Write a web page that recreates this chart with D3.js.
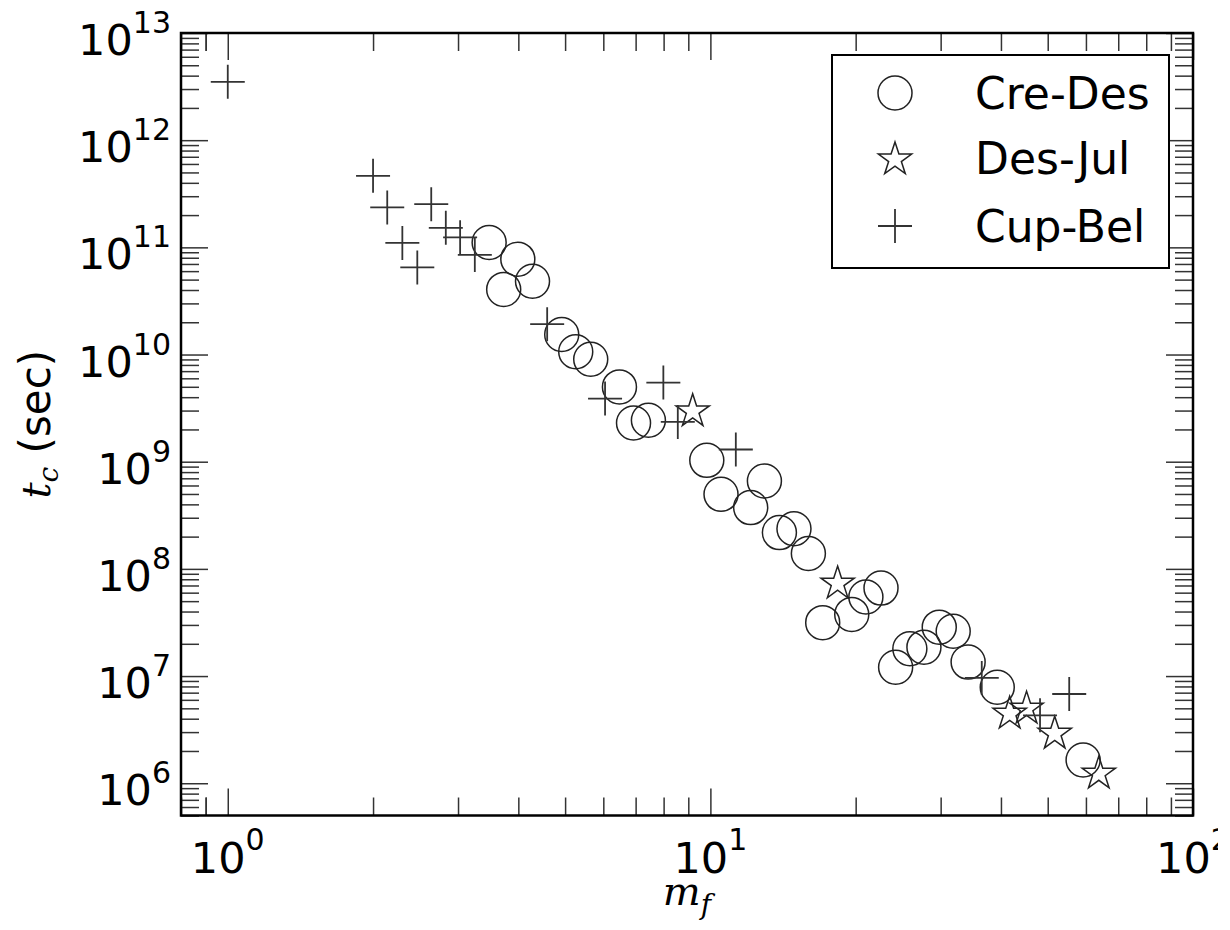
<!DOCTYPE html>
<html>
<head>
<meta charset="utf-8">
<script src="https://cdn.jsdelivr.net/npm/d3@7"></script>
<style>
  html, body { margin: 0; padding: 0; background: #fff; }
  svg { display: block; }
</style>
</head>
<body>
<svg id="chart" width="1230" height="930"></svg>
<script>
// ---------------- DATA ----------------
const seriesNames = ["Cre-Des", "Des-Jul", "Cup-Bel"];

const creDesM = [3.48, 3.99, 3.73, 4.28, 4.92, 5.26, 5.65, 6.48, 6.93, 7.44,
  9.83, 10.52, 12.94, 12.12, 13.9, 14.9, 15.96, 17.09, 19.63, 21.0,
  22.57, 24.2, 25.9, 27.7, 29.8, 31.85, 34.2, 39.3, 59.2];
const creDesT = [1.11e11, 7.76e10, 4.05e10, 4.83e10, 1.54e10, 1.06e10, 9.04e9, 4.99e9, 2.30e9, 2.44e9,
  1.03e9, 4.96e8, 6.6e8, 3.73e8, 2.18e8, 2.37e8, 1.39e8, 3.15e7, 3.76e7, 5.46e7,
  6.62e7, 1.21e7, 1.80e7, 1.86e7, 2.86e7, 2.62e7, 1.35e7, 7.87e6, 1.65e6];

const desJulM = [9.19, 18.35, 41.7, 45.2, 51.7, 63.8];
const desJulT = [3.05e9, 7.53e7, 4.6e6, 5.13e6, 2.99e6, 1.27e6];

const cupBelM = [1.0, 2.0, 2.14, 2.30, 2.47, 2.64, 2.83, 3.03, 3.25, 4.59,
  6.05, 7.99, 8.56, 11.29, 36.5, 48.2, 55.4];
const cupBelT = [3.5e12, 4.65e11, 2.36e11, 1.1e11, 6.5e10, 2.53e11, 1.52e11, 1.24e11, 8.5e10, 1.92e10,
  3.88e9, 5.47e9, 2.35e9, 1.30e9, 9.6e6, 4.3e6, 6.8e6];

const xDomain = [0.8, 100];
const yDomain = [5e5, 1e13];
const xMajorTicks = [1, 10, 100];
const xTickExponents = ["0", "1", "2"];
const yMajorTicks = [1e6, 1e7, 1e8, 1e9, 1e10, 1e11, 1e12, 1e13];
const yTickExponents = ["6", "7", "8", "9", "10", "11", "12", "13"];
const xLabelMain = "m", xLabelSub = "f";
const yLabelMain = "t", yLabelSub = "c", yLabelUnit = " (sec)";

// ---------------- LAYOUT ----------------
const L = 181, R = 1193, T = 33, B = 815.5;
const svg = d3.select("#chart");
svg.append("defs").append("clipPath").attr("id", "figclip")
  .append("rect").attr("x", 0).attr("y", 0).attr("width", 1218).attr("height", 930);
const root = svg.append("g").attr("clip-path", "url(#figclip)");

const x = d3.scaleLog().domain(xDomain).range([L, R]);
const y = d3.scaleLog().domain(yDomain).range([B, T]);

function minorTicks(domain) {
  const out = [];
  const lo = Math.floor(Math.log10(domain[0])), hi = Math.ceil(Math.log10(domain[1]));
  for (let e = lo; e <= hi; e++) {
    for (let k = 2; k <= 9; k++) {
      const v = k * Math.pow(10, e);
      if (v >= domain[0] * 0.9999 && v <= domain[1] * 1.0001) out.push(v);
    }
  }
  return out;
}
const xMinor = minorTicks(xDomain).concat([0.9]).filter(v => v >= xDomain[0]);
const yMinor = minorTicks(yDomain);

const MAJ = 27, MIN = 18;
const tickColor = "#333";

function styleAxis(g) {
  g.select(".domain").remove();
  g.selectAll(".tick line").attr("stroke", tickColor).attr("stroke-width", 1.5);
  g.selectAll(".tick text").remove();
}

// bottom
root.append("g").attr("transform", `translate(0,${B})`)
  .call(d3.axisBottom(x).tickValues(xMajorTicks).tickSize(-MAJ).tickFormat(""))
  .call(styleAxis);
root.append("g").attr("transform", `translate(0,${B})`)
  .call(d3.axisBottom(x).tickValues(xMinor).tickSize(-MIN).tickFormat(""))
  .call(styleAxis);
// top
root.append("g").attr("transform", `translate(0,${T})`)
  .call(d3.axisTop(x).tickValues(xMajorTicks).tickSize(-MAJ).tickFormat(""))
  .call(styleAxis);
root.append("g").attr("transform", `translate(0,${T})`)
  .call(d3.axisTop(x).tickValues(xMinor).tickSize(-MIN).tickFormat(""))
  .call(styleAxis);
// left
root.append("g").attr("transform", `translate(${L},0)`)
  .call(d3.axisLeft(y).tickValues(yMajorTicks).tickSize(-MAJ).tickFormat(""))
  .call(styleAxis);
root.append("g").attr("transform", `translate(${L},0)`)
  .call(d3.axisLeft(y).tickValues(yMinor).tickSize(-MIN).tickFormat(""))
  .call(styleAxis);
// right
root.append("g").attr("transform", `translate(${R},0)`)
  .call(d3.axisRight(y).tickValues(yMajorTicks).tickSize(-MAJ).tickFormat(""))
  .call(styleAxis);
root.append("g").attr("transform", `translate(${R},0)`)
  .call(d3.axisRight(y).tickValues(yMinor).tickSize(-MIN).tickFormat(""))
  .call(styleAxis);

// frame
root.append("rect").attr("x", L).attr("y", T).attr("width", R - L).attr("height", B - T)
  .attr("fill", "none").attr("stroke", "#000").attr("stroke-width", 2.5);

// tick labels
const fontSans = "'DejaVu Sans', sans-serif";
const xl = root.append("g").attr("font-family", fontSans).attr("fill", "#000");
xMajorTicks.forEach((v, i) => {
  const t = xl.append("text").attr("x", x(v)).attr("y", 873).attr("text-anchor", "middle");
  t.append("tspan").attr("font-size", 43).text("10");
  t.append("tspan").attr("font-size", 30).attr("dy", -23).text(xTickExponents[i]);
});
const yl = root.append("g").attr("font-family", fontSans).attr("fill", "#000");
yMajorTicks.forEach((v, i) => {
  const t = yl.append("text").attr("x", 171).attr("y", y(v) + 22).attr("text-anchor", "end");
  t.append("tspan").attr("font-size", 43).text("10");
  t.append("tspan").attr("font-size", 30).attr("dy", -22).text(yTickExponents[i]);
});

// axis labels
const fontMath = "'DejaVu Serif', serif";
const xt = root.append("text").attr("x", (L + R) / 2).attr("y", 905).attr("text-anchor", "middle")
  .attr("font-family", fontMath).attr("font-style", "italic");
xt.append("tspan").attr("font-size", 40).text(xLabelMain);
xt.append("tspan").attr("font-size", 28).attr("dy", 9).text(xLabelSub);

const yt = root.append("text").attr("transform", `translate(50,${(T + B) / 2}) rotate(-90)`)
  .attr("text-anchor", "middle");
yt.append("tspan").attr("font-family", fontMath).attr("font-style", "italic").attr("font-size", 40).text(yLabelMain);
yt.append("tspan").attr("font-family", fontMath).attr("font-style", "italic").attr("font-size", 28).attr("dy", 8).text(yLabelSub);
yt.append("tspan").attr("font-family", fontSans).attr("font-size", 42).attr("dy", -8).text(yLabelUnit);

// ---------------- MARKERS ----------------
const mStroke = "#222", mWidth = 1.5;
const circleR = 17;
function starD(Rout) {
  const rin = Rout * 0.381966;
  const pts = [];
  for (let i = 0; i < 10; i++) {
    const r = i % 2 === 0 ? Rout : rin;
    const a = -Math.PI / 2 + i * Math.PI / 5;
    pts.push([r * Math.cos(a), r * Math.sin(a)]);
  }
  return "M" + pts.map(p => p[0].toFixed(2) + "," + p[1].toFixed(2)).join("L") + "Z";
}
const STAR = starD(17.5);
const PLUS_ARM = 17;

const plot = root.append("g");

function drawCircle(g, cx, cy) {
  g.append("circle").attr("cx", cx).attr("cy", cy).attr("r", circleR)
    .attr("fill", "none").attr("stroke", mStroke).attr("stroke-width", mWidth);
}
function drawStar(g, cx, cy) {
  g.append("path").attr("d", STAR).attr("transform", `translate(${cx},${cy + 1.5})`)
    .attr("fill", "none").attr("stroke", mStroke).attr("stroke-width", mWidth).attr("stroke-linejoin", "miter");
}
function drawPlus(g, cx, cy) {
  g.append("path").attr("d", `M${cx - PLUS_ARM},${cy}H${cx + PLUS_ARM}M${cx},${cy - PLUS_ARM}V${cy + PLUS_ARM}`)
    .attr("fill", "none").attr("stroke", "#333").attr("stroke-width", 1.8);
}

creDesM.forEach((m, i) => drawCircle(plot, x(m), y(creDesT[i])));
desJulM.forEach((m, i) => drawStar(plot, x(m), y(desJulT[i])));
cupBelM.forEach((m, i) => drawPlus(plot, x(m), y(cupBelT[i])));

// ---------------- LEGEND ----------------
const lg = root.append("g");
lg.append("rect").attr("x", 832).attr("y", 55).attr("width", 337).attr("height", 213)
  .attr("fill", "#fff").attr("stroke", "#000").attr("stroke-width", 2);
const rows = [93, 158, 226];
drawCircle(lg, 895, rows[0]);
drawStar(lg, 895, rows[1]);
drawPlus(lg, 895, rows[2]);
seriesNames.forEach((n, i) => {
  lg.append("text").attr("x", 975).attr("y", rows[i] + 16).attr("font-family", fontSans)
    .attr("font-size", 44).attr("fill", "#000").text(n);
});
</script>
</body>
</html>
